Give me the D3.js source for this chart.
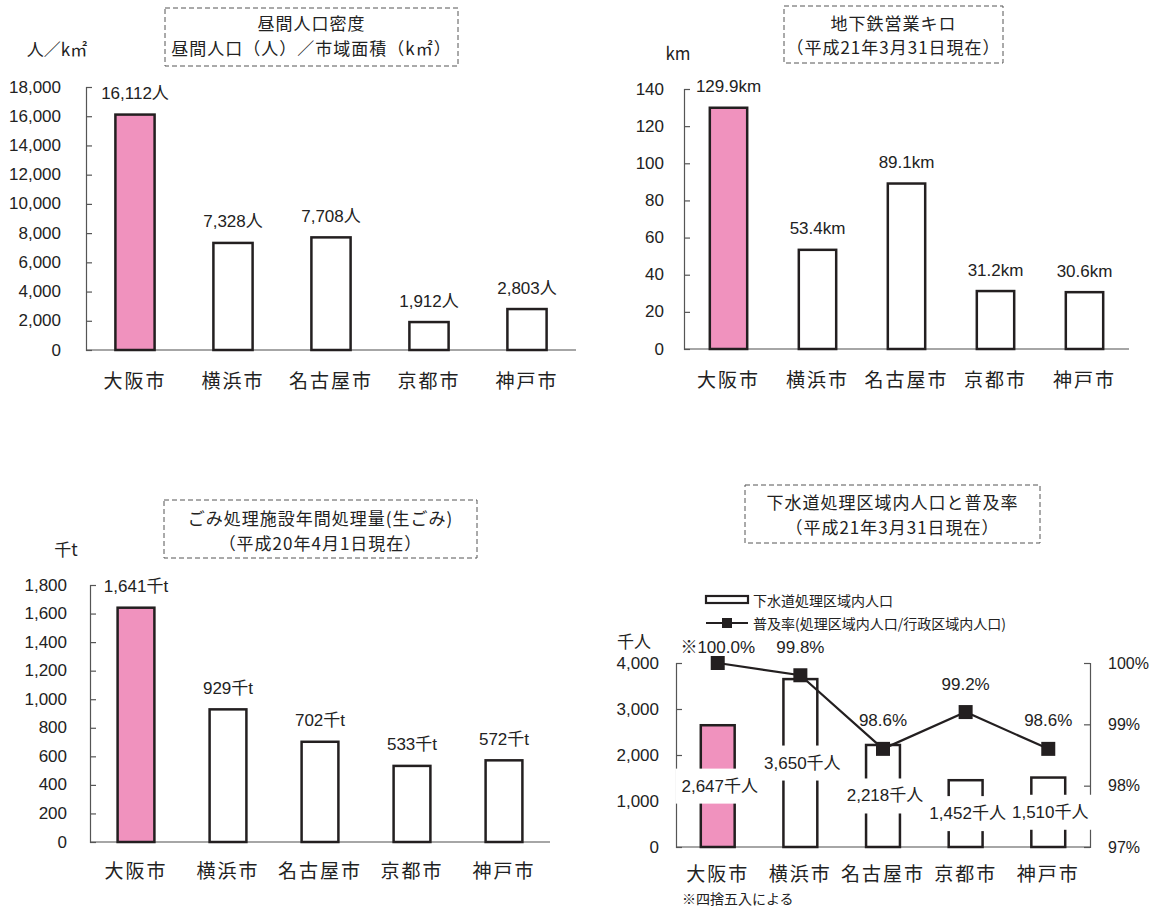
<!DOCTYPE html>
<html>
<head>
<meta charset="utf-8">
<script src="https://cdn.jsdelivr.net/npm/d3@7"></script>
<style>
  body { margin: 0; background: #fff; }
  svg text { font-family: "Liberation Sans", "Noto Sans CJK JP", sans-serif; fill: #222; }
  .cjk { font-family: "Noto Sans CJK JP", sans-serif; }
</style>
</head>
<body>
<svg id="chart" width="1151" height="908"></svg>
<script>
const cities = ["大阪市", "横浜市", "名古屋市", "京都市", "神戸市"];

const densityValues = [16112, 7328, 7708, 1912, 2803];
const densityLabels = ["16,112人", "7,328人", "7,708人", "1,912人", "2,803人"];
const densityTicks = [0, 2000, 4000, 6000, 8000, 10000, 12000, 14000, 16000, 18000];

const subwayValues = [129.9, 53.4, 89.1, 31.2, 30.6];
const subwayLabels = ["129.9km", "53.4km", "89.1km", "31.2km", "30.6km"];
const subwayTicks = [0, 20, 40, 60, 80, 100, 120, 140];

const garbageValues = [1641, 929, 702, 533, 572];
const garbageLabels = ["1,641千t", "929千t", "702千t", "533千t", "572千t"];
const garbageTicks = [0, 200, 400, 600, 800, 1000, 1200, 1400, 1600, 1800];

const sewerPopValues = [2647, 3650, 2218, 1452, 1510];
const sewerPopLabels = ["2,647千人", "3,650千人", "2,218千人", "1,452千人", "1,510千人"];
const sewerRateValues = [100.0, 99.8, 98.6, 99.2, 98.6];
const sewerRateLabels = ["※100.0%", "99.8%", "98.6%", "99.2%", "98.6%"];
const sewerPopTicks = [0, 1000, 2000, 3000, 4000];
const sewerRateTicks = [97, 98, 99, 100];

const PINK = "#f092be";
const svg = d3.select("#chart");
const fmt = d3.format(",");

function titleBox(x0, y0, x1, y1, lines, lineYs) {
  svg.append("rect")
    .attr("x", x0).attr("y", y0)
    .attr("width", x1 - x0).attr("height", y1 - y0)
    .attr("fill", "none")
    .attr("stroke", "#555")
    .attr("stroke-dasharray", "5,3");
  lines.forEach((t, i) => {
    svg.append("text")
      .attr("class", "cjk")
      .attr("x", (x0 + x1) / 2).attr("y", lineYs[i])
      .attr("text-anchor", "middle")
      .attr("dominant-baseline", "central")
      .style("font-size", "17px")
      .style("letter-spacing", "1px")
      .text(t);
  });
}

function unitText(x, y, t) {
  svg.append("text").attr("class", "cjk")
    .attr("x", x).attr("y", y)
    .attr("text-anchor", "middle").attr("dominant-baseline", "central")
    .style("font-size", "17px").text(t);
}

function cityAxis(x, y) {
  const g = svg.append("g");
  cities.forEach(c => {
    g.append("text").attr("class", "cjk")
      .attr("x", x.bandwidth() / 2 + x(c)).attr("y", y)
      .attr("text-anchor", "middle").attr("dominant-baseline", "central")
      .style("font-size", "19px")
      .style("letter-spacing", "2px")
      .text(c);
  });
}

function barChart(o) {
  const x = d3.scaleBand().domain(cities).range([o.left, o.right]).paddingInner(o.pad).paddingOuter(o.pad / 2);
  const y = d3.scaleLinear().domain([0, d3.max(o.ticks)]).range([o.bottom, o.top]);
  const g = svg.append("g");

  // baseline
  g.append("line")
    .attr("x1", o.left).attr("x2", o.right)
    .attr("y1", o.bottom).attr("y2", o.bottom)
    .attr("stroke", "#888").attr("stroke-width", 1.5);

  // left axis, ticks on the inside
  const axis = g.append("g")
    .attr("transform", `translate(${o.left},0)`)
    .call(d3.axisRight(y).tickValues(o.ticks).tickSize(6).tickFormat(""));
  axis.select(".domain").attr("stroke", "#555").attr("stroke-width", 1.2);
  axis.selectAll(".tick line").attr("stroke", "#555").attr("stroke-width", 1.2);

  o.ticks.forEach(t => {
    g.append("text")
      .attr("x", o.left - o.labelGap).attr("y", y(t))
      .attr("text-anchor", "end").attr("dominant-baseline", "central")
      .style("font-size", "17px")
      .text(fmt(t));
  });

  g.selectAll("rect.bar")
    .data(o.values)
    .enter().append("rect")
    .attr("class", "bar")
    .attr("x", (d, i) => x(cities[i]))
    .attr("y", d => y(d))
    .attr("width", x.bandwidth())
    .attr("height", d => o.bottom - y(d))
    .attr("fill", (d, i) => i === 0 ? PINK : "#fff")
    .attr("stroke", "#231f20")
    .attr("stroke-width", 2.5);

  g.selectAll("text.val")
    .data(o.values)
    .enter().append("text")
    .attr("class", "val")
    .attr("x", (d, i) => x(cities[i]) + x.bandwidth() / 2)
    .attr("y", d => y(d) - 21)
    .attr("text-anchor", "middle").attr("dominant-baseline", "central")
    .style("font-size", "17px")
    .text((d, i) => o.labels[i]);

  cityAxis(x, o.catY);
}

// chart 1
titleBox(165, 8, 458, 66, ["昼間人口密度", "昼間人口（人）／市域面積（k㎡）"], [22, 47]);
unitText(57, 48, "人／k㎡");
barChart({ values: densityValues, labels: densityLabels, ticks: densityTicks,
  left: 86, right: 576, top: 87, bottom: 350, pad: 0.6, labelGap: 25, catY: 379 });

// chart 2
titleBox(784, 6, 1003, 63, ["地下鉄営業キロ", "（平成21年3月31日現在）"], [22, 46]);
unitText(678, 52, "km");
barChart({ values: subwayValues, labels: subwayLabels, ticks: subwayTicks,
  left: 684, right: 1129, top: 89, bottom: 349, pad: 0.58, labelGap: 20, catY: 378 });

// chart 3
titleBox(164, 500, 477, 558, ["ごみ処理施設年間処理量(生ごみ)", "（平成20年4月1日現在）"], [517, 542]);
unitText(66, 548, "千t");
barChart({ values: garbageValues, labels: garbageLabels, ticks: garbageTicks,
  left: 90, right: 550, top: 585, bottom: 842, pad: 0.6, labelGap: 23, catY: 869 });

// chart 4: bars + rate line
(function () {
  const left = 676, right = 1090, top = 663, bottom = 847;
  titleBox(745, 485, 1040, 543, ["下水道処理区域内人口と普及率", "（平成21年3月31日現在）"], [501, 526]);
  unitText(634, 640, "千人");

  const x = d3.scaleBand().domain(cities).range([left, right]).paddingInner(0.59).paddingOuter(0.3);
  const y = d3.scaleLinear().domain([0, d3.max(sewerPopTicks)]).range([bottom, top]);
  const yR = d3.scaleLinear().domain([97, 100]).range([bottom, top]);
  const cx = c => x(c) + x.bandwidth() / 2;
  const g = svg.append("g");

  g.append("line")
    .attr("x1", left).attr("x2", right)
    .attr("y1", bottom).attr("y2", bottom)
    .attr("stroke", "#888").attr("stroke-width", 1.5);

  const ax = g.append("g").attr("transform", `translate(${left},0)`)
    .call(d3.axisRight(y).tickValues(sewerPopTicks).tickSize(6).tickFormat(""));
  const axR = g.append("g").attr("transform", `translate(${right},0)`)
    .call(d3.axisLeft(yR).tickValues(sewerRateTicks).tickSize(6).tickFormat(""));
  [ax, axR].forEach(a => {
    a.select(".domain").attr("stroke", "#555").attr("stroke-width", 1.2);
    a.selectAll(".tick line").attr("stroke", "#555").attr("stroke-width", 1.2);
  });

  sewerPopTicks.forEach(t => {
    g.append("text").attr("x", left - 17).attr("y", y(t))
      .attr("text-anchor", "end").attr("dominant-baseline", "central")
      .style("font-size", "17px").text(fmt(t));
  });
  sewerRateTicks.forEach(t => {
    g.append("text").attr("x", right + 18).attr("y", yR(t))
      .attr("dominant-baseline", "central")
      .style("font-size", "16px").text(t + "%");
  });

  g.selectAll("rect.bar").data(sewerPopValues).enter().append("rect")
    .attr("class", "bar")
    .attr("x", (d, i) => x(cities[i]))
    .attr("y", d => y(d))
    .attr("width", x.bandwidth())
    .attr("height", d => bottom - y(d))
    .attr("fill", (d, i) => i === 0 ? PINK : "#fff")
    .attr("stroke", "#231f20").attr("stroke-width", 2.5);

  // line
  const line = d3.line().x((d, i) => cx(cities[i])).y(d => yR(d));
  g.append("path").datum(sewerRateValues)
    .attr("d", line).attr("fill", "none")
    .attr("stroke", "#231f20").attr("stroke-width", 2.2);
  g.selectAll("rect.mk").data(sewerRateValues).enter().append("rect")
    .attr("class", "mk")
    .attr("x", (d, i) => cx(cities[i]) - 7)
    .attr("y", d => yR(d) - 7)
    .attr("width", 14).attr("height", 14)
    .attr("fill", "#231f20");

  g.selectAll("text.rate").data(sewerRateValues).enter().append("text")
    .attr("class", "rate")
    .attr("x", (d, i) => cx(cities[i]))
    .attr("y", d => Math.max(yR(d) - 28, 647))
    .attr("text-anchor", "middle").attr("dominant-baseline", "central")
    .style("font-size", "17px")
    .text((d, i) => sewerRateLabels[i]);

  // population labels with white backing, at bar middle
  sewerPopValues.forEach((d, i) => {
    const lg = g.append("g");
    const t = lg.append("text")
      .attr("x", cx(cities[i]) + 2).attr("y", (y(d) + bottom) / 2)
      .attr("text-anchor", "middle").attr("dominant-baseline", "central")
      .style("font-size", "17px")
      .text(sewerPopLabels[i]);
    const b = t.node().getBBox();
    lg.insert("rect", "text")
      .attr("x", b.x - 6).attr("y", b.y - 8)
      .attr("width", b.width + 12).attr("height", b.height + 16)
      .attr("fill", "#fff");
  });

  cityAxis(x, 872);

  // legend
  const lg = svg.append("g");
  lg.append("rect").attr("x", 706).attr("y", 596).attr("width", 42).attr("height", 7)
    .attr("fill", "#fff").attr("stroke", "#231f20").attr("stroke-width", 2.2);
  lg.append("text").attr("class", "cjk").attr("x", 753).attr("y", 600)
    .attr("dominant-baseline", "central").style("font-size", "14px")
    .text("下水道処理区域内人口");
  lg.append("line").attr("x1", 706).attr("x2", 748).attr("y1", 623).attr("y2", 623)
    .attr("stroke", "#231f20").attr("stroke-width", 2.2);
  lg.append("rect").attr("x", 722).attr("y", 618).attr("width", 10).attr("height", 10)
    .attr("fill", "#231f20");
  lg.append("text").attr("class", "cjk").attr("x", 753).attr("y", 623)
    .attr("dominant-baseline", "central").style("font-size", "14px")
    .text("普及率(処理区域内人口/行政区域内人口)");

  svg.append("text").attr("class", "cjk").attr("x", 682).attr("y", 898)
    .attr("dominant-baseline", "central").style("font-size", "14px")
    .text("※四捨五入による");
})();
</script>
</body>
</html>
